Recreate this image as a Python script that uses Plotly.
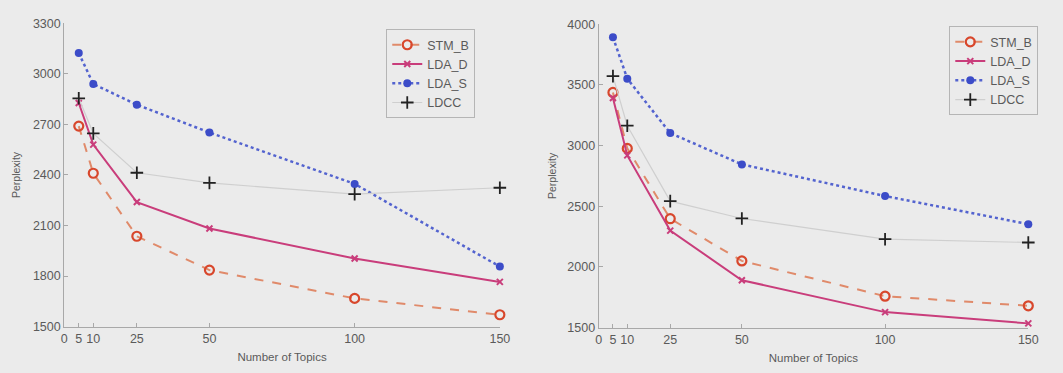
import plotly.graph_objects as go

topics = [5, 10, 25, 50, 100, 150]
x_ticks = [0, 5, 10, 25, 50, 100, 150]
x_ticktext = ["0", "5", "10", "25", "50", "100", "150"]

# Left panel
left_stm_b = [2690, 2410, 2036, 1835, 1667, 1570]
left_lda_d = [2827, 2580, 2239, 2082, 1904, 1765]
left_lda_s = [3124, 2940, 2817, 2652, 2347, 1856]
left_ldcc = [2855, 2647, 2413, 2353, 2286, 2324]
left_yticks = [1500, 1800, 2100, 2400, 2700, 3000, 3300]

# Right panel
right_stm_b = [3438, 2977, 2397, 2049, 1758, 1679]
right_lda_d = [3393, 2919, 2299, 1890, 1627, 1534]
right_lda_s = [3894, 3552, 3103, 2845, 2584, 2352]
right_ldcc = [3573, 3164, 2542, 2399, 2228, 2201]
right_yticks = [1500, 2000, 2500, 3000, 3500, 4000]

names = ["STM_B", "LDA_D", "LDA_S", "LDCC"]

W, H = 1063, 373
BG = "#ebebeb"
TXT = "#5a5a5a"
FONT = "Liberation Sans, Arial, sans-serif"

styles = {
    "STM_B": dict(line=dict(color="#e08a6a", width=2, dash="dash"),
                  marker=dict(symbol="circle-open", size=9, color="#d8472c", line=dict(width=2.2))),
    "LDA_D": dict(line=dict(color="#c93d7b", width=2),
                  marker=dict(symbol="x-thin", size=6, color="#c93d7b", line=dict(width=2, color="#c93d7b"))),
    "LDA_S": dict(line=dict(color="#5363cf", width=2.5, dash="dot"),
                  marker=dict(symbol="circle", size=8, color="#3c4cc8")),
    "LDCC": dict(line=dict(color="#cfcfcf", width=1.2),
                 marker=dict(symbol="cross-thin", size=9, color="#222222", line=dict(width=1.8, color="#222222"))),
}

fig = go.Figure()

def add_panel(data, xa, ya, legend):
    for nm, vals in zip(names, data):
        st = styles[nm]
        fig.add_trace(go.Scatter(x=topics, y=vals, name=nm, mode="lines+markers",
                                 line=st["line"], marker=st["marker"], cliponaxis=False,
                                 xaxis=xa, yaxis=ya, legend=legend))

add_panel([left_stm_b, left_lda_d, left_lda_s, left_ldcc], "x", "y", "legend")
add_panel([right_stm_b, right_lda_d, right_lda_s, right_ldcc], "x2", "y2", "legend2")

axis_common = dict(showline=True, linecolor="#a8a8a8", linewidth=1, showgrid=False, zeroline=False,
                   ticks="inside", ticklen=4, tickcolor="#a8a8a8", tickfont=dict(family=FONT, size=12.5, color=TXT),
                   mirror=False)

fig.update_layout(
    width=W, height=H, margin=dict(l=0, r=0, t=0, b=0),
    paper_bgcolor=BG, plot_bgcolor=BG,
    font=dict(family=FONT, color=TXT),
    xaxis=dict(domain=[62 / W, 503 / W], range=[0, 150], tickvals=x_ticks, ticktext=x_ticktext, tickangle=0,
               title=dict(text="Number of Topics", font=dict(size=11.5, color=TXT), standoff=8),
               anchor="y", **axis_common),
    yaxis=dict(domain=[(H - 332) / H, (H - 17) / H], range=[1500, 3300], tickvals=left_yticks,
               title=dict(text="Perplexity", font=dict(size=10.5, color=TXT), standoff=10),
               anchor="x", **axis_common),
    xaxis2=dict(domain=[603 / W, 1038 / W], range=[0, 150], tickvals=x_ticks, ticktext=x_ticktext, tickangle=0,
                title=dict(text="Number of Topics", font=dict(size=11.5, color=TXT), standoff=8),
                anchor="y2", **axis_common),
    yaxis2=dict(domain=[(H - 333) / H, (H - 18) / H], range=[1500, 4000], tickvals=right_yticks,
                title=dict(text="Perplexity", font=dict(size=10.5, color=TXT), standoff=8),
                anchor="x2", **axis_common),
    legend=dict(x=388 / W, y=1 - 23 / H, xanchor="left", yanchor="top", bgcolor=BG,
                bordercolor="#b5b5b5", borderwidth=1, font=dict(size=12.5, color=TXT), itemwidth=30,
                tracegroupgap=0),
    legend2=dict(x=958 / W, y=1 - 20 / H, xanchor="left", yanchor="top", bgcolor=BG,
                 bordercolor="#b5b5b5", borderwidth=1, font=dict(size=12.5, color=TXT), itemwidth=30,
                 tracegroupgap=0),
    showlegend=True,
)

fig.write_html("out.html")
